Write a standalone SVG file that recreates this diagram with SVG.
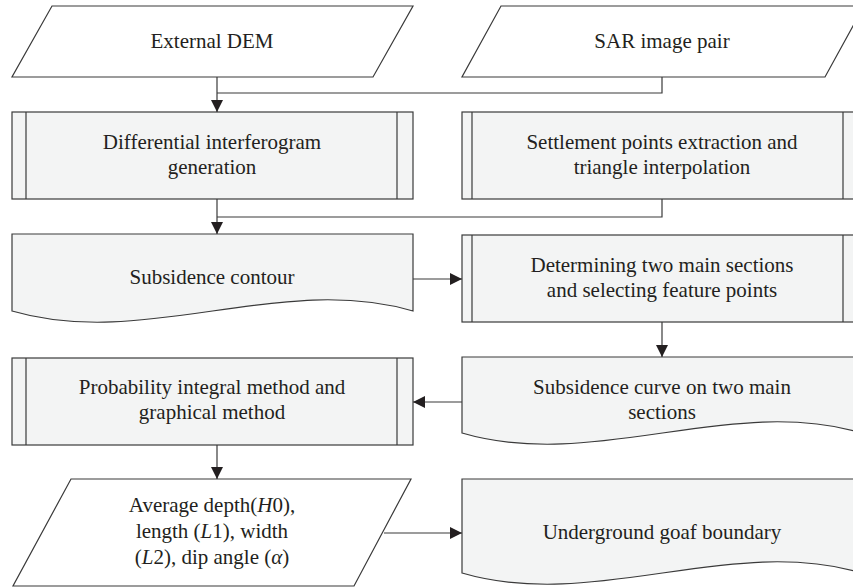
<svg xmlns="http://www.w3.org/2000/svg" width="853" height="588" viewBox="0 0 853 588">
<style>
  .io { fill: #ffffff; stroke: #3a3a3a; stroke-width: 1.2; }
  .proc { fill: #f3f4f4; stroke: #3a3a3a; stroke-width: 1.2; }
  .doc { fill: #f3f4f4; stroke: #3a3a3a; stroke-width: 1.2; }
  .bar { fill: none; stroke: #3a3a3a; stroke-width: 1.2; }
  .lbl { font-family: "Liberation Serif", "Times New Roman", serif; font-size: 21px; fill: #231f20; text-anchor: middle; }
  .conn { fill: none; stroke: #3a3a3a; stroke-width: 1.2; }
</style>
<defs>
  <marker id="arrow" markerUnits="userSpaceOnUse" markerWidth="12" markerHeight="12" viewBox="0 0 12 12" refX="12" refY="6" orient="auto">
    <path d="M0,0 L12,6 L0,12 Z" fill="#231f20"/>
  </marker>
</defs>
<rect width="853" height="588" fill="#ffffff"/>

<g id="external-dem">
  <polygon class="io" points="52,6 413,6 373,77 12,77"/>
  <text class="lbl" x="212" y="48">External DEM</text>
</g>
<g id="sar-image-pair">
  <polygon class="io" points="501,6 864,6 825,77 462,77"/>
  <text class="lbl" x="662" y="48">SAR image pair</text>
</g>
<g id="differential-interferogram">
  <rect class="proc" x="12" y="112" width="401" height="87"/>
  <line class="bar" x1="26" y1="112" x2="26" y2="199"/>
  <line class="bar" x1="397" y1="112" x2="397" y2="199"/>
  <text class="lbl" x="212" y="149">Differential interferogram</text>
  <text class="lbl" x="212" y="174">generation</text>
</g>
<g id="settlement-points">
  <rect class="proc" x="462" y="112" width="400" height="87"/>
  <line class="bar" x1="472" y1="112" x2="472" y2="199"/>
  <line class="bar" x1="843" y1="112" x2="843" y2="199"/>
  <text class="lbl" x="662" y="149">Settlement points extraction and</text>
  <text class="lbl" x="662" y="174">triangle interpolation</text>
</g>
<g id="subsidence-contour">
  <path class="doc" d="M12,234 H413 V311 C280,272 145,350 12,311 Z"/>
  <text class="lbl" x="212" y="284">Subsidence contour</text>
</g>
<g id="determining-sections">
  <rect class="proc" x="462" y="235" width="400" height="87"/>
  <line class="bar" x1="472" y1="235" x2="472" y2="322"/>
  <line class="bar" x1="843" y1="235" x2="843" y2="322"/>
  <text class="lbl" x="662" y="272">Determining two main sections</text>
  <text class="lbl" x="662" y="297">and selecting feature points</text>
</g>
<g id="subsidence-curve">
  <path class="doc" d="M462,357 H862 V433 C730,394 595,472 462,433 Z"/>
  <text class="lbl" x="662" y="394">Subsidence curve on two main</text>
  <text class="lbl" x="662" y="419">sections</text>
</g>
<g id="probability-integral">
  <rect class="proc" x="12" y="358" width="401" height="87"/>
  <line class="bar" x1="26" y1="358" x2="26" y2="445"/>
  <line class="bar" x1="397" y1="358" x2="397" y2="445"/>
  <text class="lbl" x="212" y="394">Probability integral method and</text>
  <text class="lbl" x="212" y="419">graphical method</text>
</g>
<g id="average-depth">
  <polygon class="io" points="71,479 411,479 354,586 13,586"/>
  <text class="lbl" x="212" y="512">Average depth(<tspan font-style="italic">H</tspan>0),</text>
  <text class="lbl" x="212" y="538">length (<tspan font-style="italic">L</tspan>1), width</text>
  <text class="lbl" x="212" y="564">(<tspan font-style="italic">L</tspan>2), dip angle (<tspan font-style="italic">α</tspan>)</text>
</g>
<g id="underground-goaf">
  <path class="doc" d="M462,479 H862 V573 C730,534 595,612 462,573 Z"/>
  <text class="lbl" x="662" y="539">Underground goaf boundary</text>
</g>

<g id="connectors">
  <path class="conn" d="M217,77 V112" marker-end="url(#arrow)"/>
  <path class="conn" d="M662,77 V93 H217"/>
  <path class="conn" d="M217,199 V234" marker-end="url(#arrow)"/>
  <path class="conn" d="M662,199 V217 H217"/>
  <path class="conn" d="M413,279 H462" marker-end="url(#arrow)"/>
  <path class="conn" d="M662,322 V357" marker-end="url(#arrow)"/>
  <path class="conn" d="M462,402 H413" marker-end="url(#arrow)"/>
  <path class="conn" d="M217,445 V479" marker-end="url(#arrow)"/>
  <path class="conn" d="M384,533 H462" marker-end="url(#arrow)"/>
</g>
</svg>
